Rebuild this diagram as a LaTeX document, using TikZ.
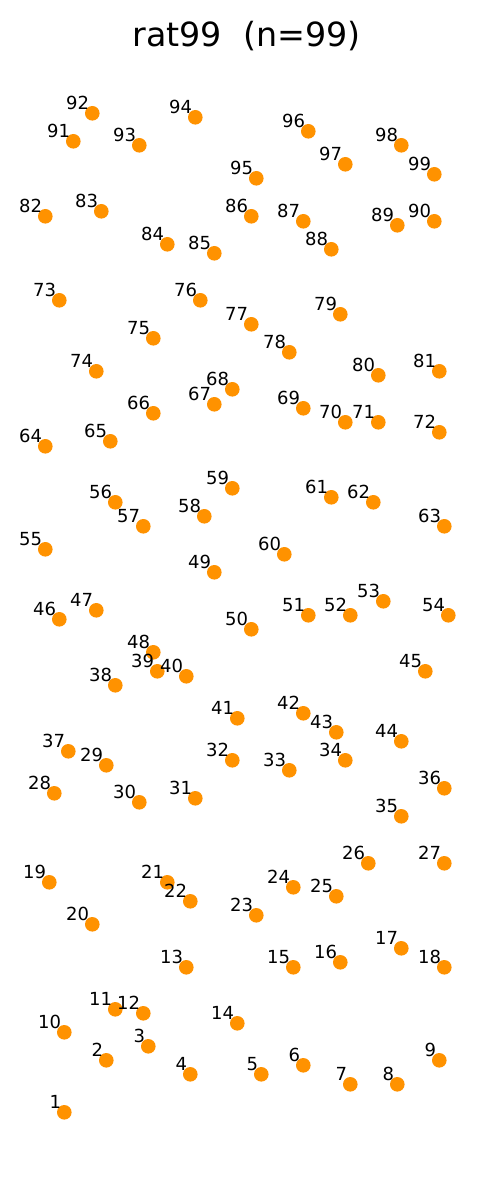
\documentclass[tikz,border=0pt]{standalone}
\usepackage{fontspec}
\setmainfont{DejaVu Sans}
\definecolor{dotc}{RGB}{255,146,0}
\begin{document}
\begin{tikzpicture}[x=1pt,y=-1pt,
  dot/.style={circle,fill=dotc,draw=none,inner sep=0pt,minimum size=14.6pt},
  lab/.style={anchor=base east,inner sep=0pt,font=\fontsize{18}{20}\selectfont,text=black},
  ttl/.style={anchor=base,inner sep=0pt,font=\fontsize{33.3}{36}\selectfont}]
\useasboundingbox[fill=white] (0,0) rectangle (488,1182);
\node[ttl] (title) at (246.5,46.7) {rat99\ \ (n=99)};
\def\pts{1/64.3/1112.3, 2/106.3/1060.3, 3/148.3/1046.3, 4/190.3/1074.3, 5/261.3/1074.3,
6/303.3/1065.3, 7/350.3/1084.3, 8/397.3/1084.3, 9/439.3/1060.3, 10/64.3/1032.3,
11/115.3/1009.3, 12/143.3/1013.3, 13/186.3/967.3, 14/237.3/1023.3, 15/293.3/967.3,
16/340.3/962.3, 17/401.3/948.3, 18/444.3/967.3, 19/49.3/882.3, 20/92.3/924.3,
21/167.3/882.3, 22/190.3/901.3, 23/256.3/915.3, 24/293.3/887.3, 25/336.3/896.3,
26/368.3/863.3, 27/444.3/863.3, 28/54.3/793.3, 29/106.3/765.3, 30/139.3/802.3,
31/195.3/798.3, 32/232.3/760.3, 33/289.3/770.3, 34/345.3/760.3, 35/401.3/816.3,
36/444.3/788.3, 37/68.3/751.3, 38/115.3/685.3, 39/157.3/671.3, 40/186.3/676.3,
41/237.3/718.3, 42/303.3/713.3, 43/336.3/732.3, 44/401.3/741.3, 45/425.3/671.3,
46/59.3/619.3, 47/96.3/610.3, 48/153.3/652.3, 49/214.3/572.3, 50/251.3/629.3,
51/308.3/615.3, 52/350.3/615.3, 53/383.3/601.3, 54/448.3/615.3, 55/45.3/549.3,
56/115.3/502.3, 57/143.3/526.3, 58/204.3/516.3, 59/232.3/488.3, 60/284.3/554.3,
61/331.3/497.3, 62/373.3/502.3, 63/444.3/526.3, 64/45.3/446.3, 65/110.3/441.3,
66/153.3/413.3, 67/214.3/404.3, 68/232.3/389.3, 69/303.3/408.3, 70/345.3/422.3,
71/378.3/422.3, 72/439.3/432.3, 73/59.3/300.3, 74/96.3/371.3, 75/153.3/338.3,
76/200.3/300.3, 77/251.3/324.3, 78/289.3/352.3, 79/340.3/314.3, 80/378.3/375.3,
81/439.3/371.3, 82/45.3/216.3, 83/101.3/211.3, 84/167.3/244.3, 85/214.3/253.3,
86/251.3/216.3, 87/303.3/221.3, 88/331.3/249.3, 89/397.3/225.3, 90/434.3/221.3,
91/73.3/141.3, 92/92.3/113.3, 93/139.3/145.3, 94/195.3/117.3, 95/256.3/178.3,
96/308.3/131.3, 97/345.3/164.3, 98/401.3/145.3, 99/434.3/174.3}
\foreach \n/\x/\y in \pts { \node[dot] (p\n) at (\x,\y) {}; }
\foreach \n/\x/\y in \pts { \node[lab] (l\n) at ([xshift=-3pt,yshift=3.7pt]p\n.center) {\n}; }
\end{tikzpicture}
\end{document}
